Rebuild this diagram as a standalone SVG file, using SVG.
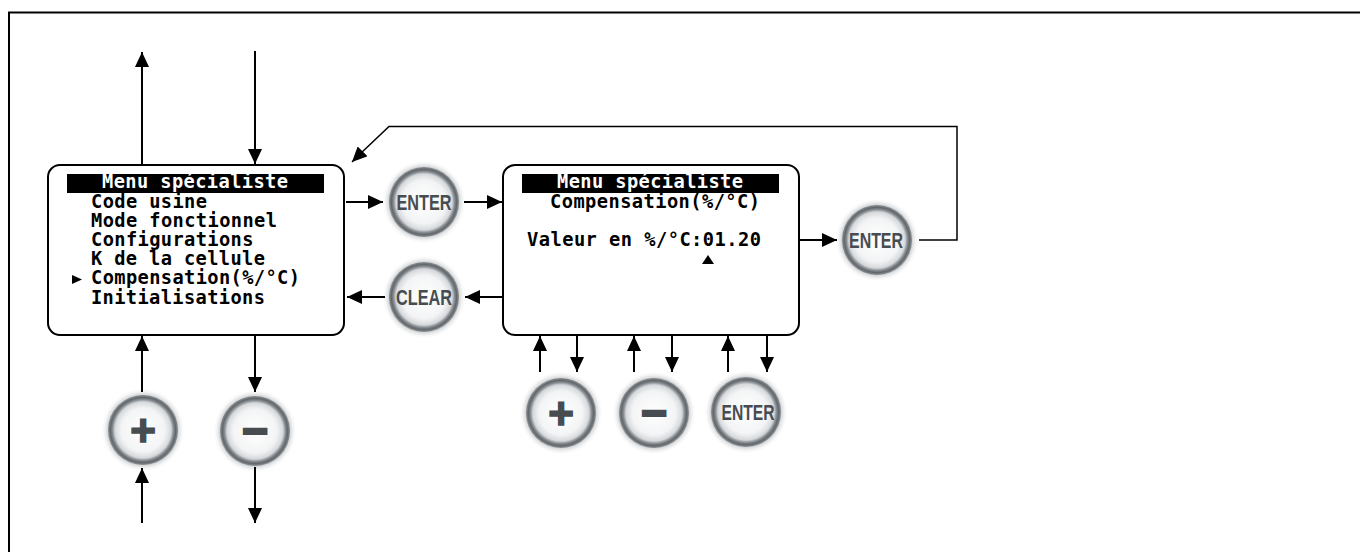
<svg xmlns="http://www.w3.org/2000/svg" width="1360" height="552" viewBox="0 0 1360 552">
<style>
.box{fill:#fff;stroke:#000;stroke-width:2}
.hdr{fill:#000}
.scr{font-family:"DejaVu Sans Mono","Liberation Mono",monospace;font-weight:bold;font-size:18.7px;fill:#000}
.scr.w{fill:#fff}
.btxt{font-family:"Liberation Sans",Arial,sans-serif;font-weight:bold;font-size:22px;fill:#474c51;text-anchor:middle}
.sym{font-family:"Liberation Sans",Arial,sans-serif;font-weight:bold;font-size:44px;fill:#474c51;stroke:#474c51;text-anchor:middle}
.ar{fill:none;stroke:#000;stroke-width:2;marker-end:url(#ah)}
.thin{fill:none;stroke:#000;stroke-width:1.5}
</style>
<defs>
<marker id="ah" markerUnits="userSpaceOnUse" markerWidth="16" markerHeight="14" refX="15" refY="7" orient="auto">
<path d="M0,0 L15,7 L0,14 z" fill="#000"/>
</marker>
<radialGradient id="glow" cx="0.5" cy="0.5" r="0.5">
<stop offset="0.78" stop-color="#6e7378" stop-opacity="0.55"/>
<stop offset="1" stop-color="#ffffff" stop-opacity="0"/>
</radialGradient>
<radialGradient id="face" cx="0.5" cy="0.5" r="0.5">
<stop offset="0" stop-color="#ffffff"/>
<stop offset="0.62" stop-color="#f3f4f5"/>
<stop offset="0.8" stop-color="#d6d9dc"/>
<stop offset="0.87" stop-color="#8a8f94"/>
<stop offset="0.93" stop-color="#62676c"/>
<stop offset="1" stop-color="#8d9196"/>
</radialGradient>
<g id="btn">
<circle r="42" fill="url(#glow)"/>
<circle r="35" fill="url(#face)"/>
</g>
</defs>
<rect x="0" y="0" width="1360" height="552" fill="#fff"/>
<path d="M9,560 L9,12.5 L1365,12.5" fill="none" stroke="#000" stroke-width="2"/>

<g id="menu-left">
<rect class="box" x="48" y="165" width="296" height="170" rx="12"/>
<rect class="hdr" x="67" y="174" width="257" height="19"/>
<text class="scr w" x="102" y="188" textLength="186" lengthAdjust="spacing">Menu spécialiste</text>
<text class="scr" x="91" y="207.5" textLength="116" lengthAdjust="spacing">Code usine</text>
<text class="scr" x="91" y="226.7" textLength="186" lengthAdjust="spacing">Mode fonctionnel</text>
<text class="scr" x="91" y="245.9" textLength="162.5" lengthAdjust="spacing">Configurations</text>
<text class="scr" x="91" y="265.1" textLength="174" lengthAdjust="spacing">K de la cellule</text>
<polygon points="72,275 82,279.5 72,284" fill="#000"/>
<text class="scr" x="91" y="284.3" textLength="209" lengthAdjust="spacing">Compensation(%/°C)</text>
<text class="scr" x="91" y="303.5" textLength="174" lengthAdjust="spacing">Initialisations</text>
</g>

<g id="menu-right">
<rect class="box" x="503" y="165" width="296" height="170" rx="12"/>
<rect class="hdr" x="522" y="174" width="257" height="19"/>
<text class="scr w" x="557" y="188" textLength="186" lengthAdjust="spacing">Menu spécialiste</text>
<text class="scr" x="550" y="207.7" textLength="210" lengthAdjust="spacing">Compensation(%/°C)</text>
<text class="scr" x="527" y="246" textLength="234" lengthAdjust="spacing">Valeur en %/°C:01.20</text>
<polygon points="702,264 708,255 714,264" fill="#000"/>
</g>

<g id="btn-enter-1"><use href="#btn" x="424" y="202"/><text class="btxt" x="424" y="209.5" textLength="55" lengthAdjust="spacingAndGlyphs">ENTER</text></g>
<g id="btn-clear"><use href="#btn" x="424" y="297"/><text class="btxt" x="424" y="304.5" textLength="56" lengthAdjust="spacingAndGlyphs">CLEAR</text></g>
<g id="btn-enter-2"><use href="#btn" x="877" y="240"/><text class="btxt" x="876" y="247.5" textLength="54" lengthAdjust="spacingAndGlyphs">ENTER</text></g>
<g id="btn-plus-left"><use href="#btn" x="143" y="430"/><text class="sym" x="143" y="445.5" stroke-width="1.5">+</text></g>
<g id="btn-minus-left"><use href="#btn" x="255" y="431"/><text class="sym" x="255" y="446" stroke-width="2.5">−</text></g>
<g id="btn-plus-right"><use href="#btn" x="561" y="413"/><text class="sym" x="561" y="428.5" stroke-width="1.5">+</text></g>
<g id="btn-minus-right"><use href="#btn" x="654" y="413"/><text class="sym" x="654" y="428" stroke-width="2.5">−</text></g>
<g id="btn-enter-3"><use href="#btn" x="746" y="412"/><text class="btxt" x="748" y="419.5" textLength="53" lengthAdjust="spacingAndGlyphs">ENTER</text></g>

<g id="connectors">
<path class="ar" d="M142,164 L142,52"/>
<path class="ar" d="M255,51 L255,164"/>
<path class="ar" d="M142,392 L142,336"/>
<path class="ar" d="M255,336 L255,392"/>
<path class="ar" d="M142,523 L142,468"/>
<path class="ar" d="M255,467 L255,523"/>
<path class="ar" d="M346,202 L383,202"/>
<path class="ar" d="M464,202 L502,202"/>
<path class="ar" d="M502,297 L465,297"/>
<path class="ar" d="M385,297 L347,297"/>
<path class="ar" d="M800,240 L837,240"/>
<path class="thin" d="M919,240 L957,240 L957,126.5 L389,126.5 L360,154"/>
<path class="ar" d="M362,152 L352,162" style="stroke-width:1.5"/>
<path class="ar" d="M540,372 L540,336"/>
<path class="ar" d="M577,336 L577,372"/>
<path class="ar" d="M634,372 L634,336"/>
<path class="ar" d="M672,336 L672,372"/>
<path class="ar" d="M728,372 L728,336"/>
<path class="ar" d="M767,336 L767,372"/>
</g>
</svg>
